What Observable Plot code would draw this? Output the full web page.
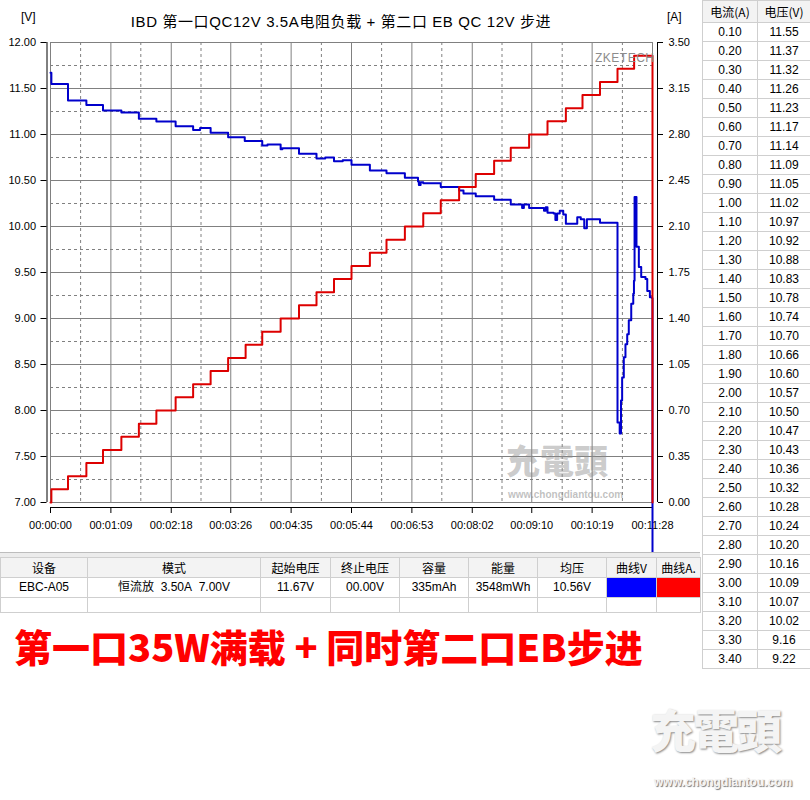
<!DOCTYPE html>
<html><head><meta charset="utf-8">
<script src="https://cdn.jsdelivr.net/npm/d3@7"></script>
<script src="https://cdn.jsdelivr.net/npm/@observablehq/plot@0.6"></script>
<style>
html,body{margin:0;padding:0;background:#fff;}
body{width:810px;height:800px;position:relative;overflow:hidden;font-family:"Liberation Sans","Noto Sans CJK SC",sans-serif;color:#000;}
.abs{position:absolute;}
#chart svg,#chart2 svg{overflow:hidden;background:transparent;}
table{border-collapse:collapse;table-layout:fixed;}
#rt td{border:1px solid #cfcfcf;height:18px;padding:0;line-height:18px;text-align:center;font-size:12px;white-space:nowrap;overflow:hidden;}
#rt tr.h td{height:21px;line-height:21px;background:#f3f3f3;font-family:"Noto Sans CJK SC",sans-serif;}
#bt td{border:1px solid #cfcfcf;height:19px;padding:0;line-height:19px;text-align:center;font-size:12px;white-space:nowrap;overflow:hidden;}
#bt tr.h td{background:#f3f3f3;font-family:"Noto Sans CJK SC",sans-serif;}
</style></head><body>
<div id="chart" class="abs" style="left:0;top:0"></div>
<div id="chart2" class="abs" style="left:0;top:0"></div>
<div class="abs" id="title" style="left:0;top:10px;width:682px;text-align:center;font-size:15px;letter-spacing:0.6px;font-family:'Liberation Sans','Noto Sans CJK SC',sans-serif;"></div>
<div class="abs" id="vunit" style="left:21px;top:10px;font-size:12px;"></div>
<div class="abs" id="aunit" style="left:667px;top:10px;font-size:12px;"></div>
<div class="abs" id="zk" style="left:595px;top:51px;font-size:12px;color:#8c8c8c;letter-spacing:0.5px;"></div>
<div class="abs" style="left:506px;top:442px;font-size:34px;line-height:36px;font-weight:900;color:rgba(140,140,140,0.45);font-family:'Noto Sans CJK TC',sans-serif;letter-spacing:0px;">充電頭</div>
<div class="abs" style="left:508px;top:489px;font-size:10px;line-height:11px;font-weight:bold;color:rgba(140,140,140,0.55);">www.chongdiantou.com</div>
<div class="abs" style="left:650px;top:703px;font-size:46px;line-height:50px;font-weight:900;color:#f4f4f4;text-shadow:1px 1px 2px #888;font-family:'Noto Sans CJK TC',sans-serif;letter-spacing:-3px;">充電頭</div>
<div class="abs" style="left:654px;top:776px;font-size:12px;line-height:13px;font-weight:bold;color:#f4f4f4;text-shadow:1px 1px 1px #777;">www.chongdiantou.com</div>
<div class="abs" style="left:702px;top:0"><table id="rt" style="width:108px"><colgroup><col style="width:55px"><col style="width:53px"></colgroup><tbody></tbody></table></div>
<div class="abs" style="left:0;top:552px;width:700px;height:5px;background:#ececec;border-top:1px solid #bdbdbd;"></div>
<div class="abs" style="left:0;top:557px"><table id="bt" style="width:700px"><colgroup></colgroup><tbody></tbody></table></div>
<div class="abs" id="big" style="left:14px;top:625px;font-size:38px;line-height:42px;font-weight:900;color:#ff0000;font-family:'Noto Sans CJK SC',sans-serif;white-space:nowrap;"></div>
<script>
// ---- texts ----
const titleText = "IBD 第一口QC12V 3.5A电阻负载 + 第二口 EB QC 12V 步进";
const leftUnit = "[V]";
const rightUnit = "[A]";
const brandText = "ZKETECH";
const bigText = "第一口35W满载 + 同时第二口EB步进";

// ---- axes ----
const xTickSec = [0, 69, 138, 206, 275, 344, 413, 482, 550, 619, 688];
const xTickLabels = ["00:00:00","00:01:09","00:02:18","00:03:26","00:04:35","00:05:44","00:06:53","00:08:02","00:09:10","00:10:19","00:11:28"];
const xMinorSec = [34.4, 103.2, 172, 240.8, 309.6, 378.4, 447.2, 516, 584.8, 653.6];
const voltTicks = [7, 7.5, 8, 8.5, 9, 9.5, 10, 10.5, 11, 11.5, 12];
const voltTickLabels = ["7.00","7.50","8.00","8.50","9.00","9.50","10.00","10.50","11.00","11.50","12.00"];
const voltMinor = [7.25, 7.75, 8.25, 8.75, 9.25, 9.75, 10.25, 10.75, 11.25, 11.75];
const ampTicks = [0, 0.35, 0.7, 1.05, 1.4, 1.75, 2.1, 2.45, 2.8, 3.15, 3.5];
const ampTickLabels = ["0.00","0.35","0.70","1.05","1.40","1.75","2.10","2.45","2.80","3.15","3.50"];

// ---- voltage series (seconds, volts) ----
const voltT = [0,1,20,41,60,81,101,121,143,163,
  171,183,203,222,242,248,263,265,284,304,
  314,324,334,344,365,384,405,420,421,423,
  426,446,467,472,486,507,526,539,541,547,
  564,566,568,575,577,579,582,586,589,602,
  606,610,613,628,648,650.5,652,653.3,655.2,657.1,
  659.1,660.9,663.7,666,666.8,667.5,669.7,672.4,675.1,680,
  682,685,687.5,688];
const voltV = [11.67,11.55,11.37,11.32,11.26,11.24,11.17,11.14,11.09,11.05,
  11.07,11.02,10.97,10.93,10.88,10.89,10.84,10.85,10.79,10.74,
  10.75,10.71,10.72,10.67,10.61,10.58,10.53,10.49,10.45,10.48,
  10.47,10.43,10.39,10.36,10.33,10.29,10.24,10.20,10.24,10.20,
  10.17,10.21,10.15,10.14,10.07,10.14,10.17,10.13,10.03,10.10,
  10.08,9.98,10.08,10.04,7.87,7.75,8.11,8.36,8.58,8.72,
  8.83,8.98,9.16,9.27,9.41,10.32,9.78,9.56,9.45,9.43,
  9.30,9.23,9.22,0];

// ---- current series (seconds, amps) ----
const currT = [0,1,20,41,60,81,101,121,143,163,183,203,223,242,263,284,304,324,344,365,384,405,426,446,467,486,507,526,547,568,589,608,628,648,667,688];
const currA = [0,0.1,0.2,0.3,0.4,0.5,0.6,0.7,0.8,0.9,1.0,1.1,1.2,1.3,1.4,1.5,1.6,1.7,1.8,1.9,2.0,2.1,2.2,2.3,2.4,2.5,2.6,2.7,2.8,2.9,3.0,3.1,3.2,3.3,3.4,0];

// ---- right-hand table ----
const tableHead = ["电流(A)","电压(V)"];
const tableCurrent = ["0.10","0.20","0.30","0.40","0.50","0.60","0.70","0.80","0.90","1.00","1.10","1.20","1.30","1.40","1.50","1.60","1.70","1.80","1.90","2.00","2.10","2.20","2.30","2.40","2.50","2.60","2.70","2.80","2.90","3.00","3.10","3.20","3.30","3.40"];
const tableVoltage = ["11.55","11.37","11.32","11.26","11.23","11.17","11.14","11.09","11.05","11.02","10.97","10.92","10.88","10.83","10.78","10.74","10.70","10.66","10.60","10.57","10.50","10.47","10.43","10.36","10.32","10.28","10.24","10.20","10.16","10.09","10.07","10.02","9.16","9.22"];

// ---- bottom info table ----
const infoHead = ["设备","模式","起始电压","终止电压","容量","能量","均压","曲线V","曲线A."];
const infoRow = ["EBC-A05","恒流放  3.50A  7.00V","11.67V","00.00V","335mAh","3548mWh","10.56V","",""];
const infoColW = [87,173,70,69,69,69,69,50,44];
const curveColors = ["#0000ff","#ff0000"];

// ---- texts ----
document.getElementById("title").textContent = titleText;
document.getElementById("vunit").textContent = leftUnit;
document.getElementById("aunit").textContent = rightUnit;
document.getElementById("zk").textContent = brandText;
document.getElementById("big").textContent = bigText;

// ---- charts ----
const W = 700, H = 552;
const M = {marginLeft:50, marginRight:48, marginTop:42, marginBottom:50};
const grid = "#808080";
const xLab = new Map(xTickSec.map((s,i)=>[s, xTickLabels[i]]));
const vLab = new Map(voltTicks.map((s,i)=>[s, voltTickLabels[i]]));
const aLab = new Map(ampTicks.map((s,i)=>[s, ampTickLabels[i]]));
const volt = voltT.map((t,i)=>({t, v: voltV[i]}));
const curr = currT.map((t,i)=>({t, a: currA[i]}));

const p1 = Plot.plot({
  width: W, height: H, ...M,
  style: {background:"transparent", overflow:"hidden", fontFamily:"Liberation Sans, sans-serif", fontSize:"11px", color:"#000"},
  x: {domain:[0,688], axis:null, label:null},
  y: {domain:[7,12], axis:null, label:null},
  marks: [
    Plot.gridX(xMinorSec, {stroke:grid, strokeOpacity:1, strokeDasharray:"3,3"}),
    Plot.gridY(voltMinor, {stroke:grid, strokeOpacity:1, strokeDasharray:"3,3"}),
    Plot.gridX(xTickSec, {stroke:grid, strokeOpacity:1}),
    Plot.gridY(voltTicks, {stroke:grid, strokeOpacity:1}),
    Plot.frame({stroke:grid}),
    Plot.ruleX([0], {dx:-3.5, stroke:"#000"}),
    Plot.axisY(voltTicks, {anchor:"left", label:null, tickSize:6, tickPadding:5, dx:-3.5, tickFormat:d=>vLab.get(d), fill:"#000", stroke:"#000"}),
    Plot.ruleY([7], {dy:5, stroke:"#000"}),
    Plot.axisX(xTickSec, {anchor:"bottom", label:null, tickSize:6, tickPadding:8, dy:5, tickFormat:d=>xLab.get(d), fill:"#000", stroke:"#000"}),
    Plot.line(volt, {x:"t", y:"v", stroke:"#0000cc", strokeWidth:2, curve:"step-after"})
  ]
});
document.getElementById("chart").appendChild(p1);

const p2 = Plot.plot({
  width: W, height: H, ...M,
  style: {background:"transparent", overflow:"hidden", fontFamily:"Liberation Sans, sans-serif", fontSize:"11px", color:"#000"},
  x: {domain:[0,688], axis:null, label:null},
  y: {domain:[0,3.5], axis:null, label:null},
  marks: [
    Plot.ruleX([688], {dx:5, stroke:"#000"}),
    Plot.axisY(ampTicks, {anchor:"right", label:null, tickSize:5, tickPadding:6, dx:5, tickFormat:d=>aLab.get(d), fill:"#000", stroke:"#000"}),
    Plot.line(curr, {x:"t", y:"a", stroke:"#dd0000", strokeWidth:2, curve:"step-after"})
  ]
});
document.getElementById("chart2").appendChild(p2);

// ---- right table ----
{
  const tb = document.querySelector("#rt tbody");
  let h = "<tr class='h'>" + tableHead.map(s=>`<td>${s}</td>`).join("") + "</tr>";
  tableCurrent.forEach((c,i)=>{ h += `<tr><td>${c}</td><td>${tableVoltage[i]}</td></tr>`; });
  tb.innerHTML = h;
}
// ---- bottom table ----
{
  document.querySelector("#bt colgroup").innerHTML = infoColW.map(w=>`<col style="width:${w}px">`).join("");
  const tb = document.querySelector("#bt tbody");
  let h = "<tr class='h'>" + infoHead.map(s=>`<td>${s}</td>`).join("") + "</tr>";
  h += "<tr>" + infoRow.map((s,i)=>{
    const ci = i - 7;
    const bg = ci >= 0 ? `style="background:${curveColors[ci]}"` : "";
    return `<td ${bg}>${s.replace(/ /g,"&nbsp;")}</td>`;
  }).join("") + "</tr>";
  h += "<tr>" + infoHead.map(()=>`<td style="height:14px"></td>`).join("") + "</tr>";
  tb.innerHTML = h;
}
</script>
</body></html>
